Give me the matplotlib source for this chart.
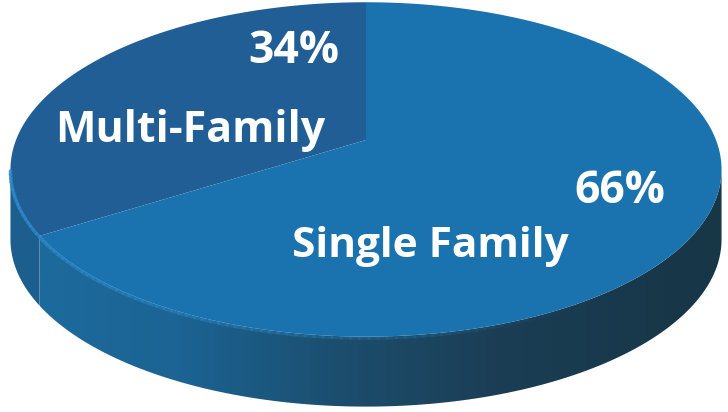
import numpy as np
import matplotlib
matplotlib.use("Agg")
import matplotlib.pyplot as plt
from matplotlib.transforms import Transform
from matplotlib.path import Path
from matplotlib.patches import Polygon
from matplotlib.collections import LineCollection
from matplotlib.colors import LinearSegmentedColormap

# data
labels = ["Multi-Family", "Single Family"]
shares = [34, 66]
pct_labels = ["34%", "66%"]

# colours
top_colors = ["#205e95", "#1a73ae"]
multi_side = "#1c5e8e"
single_side = [(0.0, "#1d6a9c"), (0.2, "#1b6494"), (0.45, "#1c4d6c"),
               (0.67, "#1b3e55"), (1.0, "#173646")]
rim_light = "#2c88c8"

# how the disk sits on the page (pixels, y down)
CX, CY = 366, 140
RX, RY = 350, 162
K = 0.176        # perspective: far half looks smaller than near half
DEPTH = 70


class Tilt(Transform):
    """Unit pie disk -> tilted, perspective ellipse in pixel coords."""
    input_dims = output_dims = 2

    def __init__(self, dy=0):
        super().__init__()
        self.dy = dy

    def transform_non_affine(self, values):
        values = np.asarray(values, dtype=float)
        u, v = values[:, 0], values[:, 1]
        w = 1 + K * v
        return np.column_stack([CX + RX * u / w, CY - RY * v / w + self.dy])

    def transform_path_non_affine(self, path):
        # sample the curves so the projection bends them properly
        pts = [seg(np.linspace(0, 1, 24)) for seg, _ in path.iter_bezier()]
        return Path(self.transform_non_affine(np.vstack(pts)))


def ring(a, b, n=120):
    phi = np.radians(np.linspace(a, b, n))
    return np.column_stack([np.cos(phi), np.sin(phi)])


fig = plt.figure(figsize=(7.28, 4.12), dpi=100)
ax = fig.add_axes([0, 0, 1, 1])

# top face
wedges, _ = ax.pie(shares, colors=top_colors, startangle=90, counterclock=True,
                   wedgeprops=dict(linewidth=0))
for w in wedges:
    w.set_transform(Tilt() + ax.transData)
    w.set_zorder(3)

# side walls, only the part facing the viewer
edges = 90 + 360 * np.cumsum([0] + shares) / sum(shares)
rim = np.degrees(np.arcsin(K))
lo, hi = 180 + rim, 360 - rim
sides = []
for a, b in zip(edges[:-1], edges[1:]):
    a2, b2 = max(a, lo), min(b, hi)
    if a2 >= b2:
        sides.append(None)
        continue
    r = ring(a2, b2)
    sides.append(np.vstack([Tilt(0).transform(r), Tilt(DEPTH).transform(r[::-1])]))

ax.add_patch(Polygon(sides[0], closed=True, fc=multi_side, lw=0, zorder=1))

clip = Polygon(sides[1], closed=True, fc="none", lw=0, zorder=1)
ax.add_patch(clip)
cmap = LinearSegmentedColormap.from_list("side", single_side)
grad = np.linspace(0, 1, 256)[None, :]
im = ax.imshow(grad, cmap=cmap, aspect="auto", zorder=1,
               extent=(sides[1][:, 0].min(), sides[1][:, 0].max(), 412, 100))
im.set_clip_path(clip)

# soft light along the front rim, fading to the right
pts = Tilt(1.5).transform(ring(lo, 300, 90))
segs = np.stack([pts[:-1], pts[1:]], axis=1)
fade = np.linspace(0.8, 0.0, len(segs))
lc = LineCollection(segs, colors=[(*matplotlib.colors.to_rgb(rim_light), f) for f in fade],
                    linewidths=2.5, zorder=4, capstyle="round")
ax.add_collection(lc)

# labels
font = dict(color="white", fontweight="bold", family="Open Sans")
ax.text(294, 63, pct_labels[0], fontsize=32, ha="center", va="baseline", zorder=5, **font)
ax.text(190, 142, labels[0], fontsize=31, ha="center", va="baseline", zorder=5, **font)
ax.text(620, 203, pct_labels[1], fontsize=32, ha="center", va="baseline", zorder=5, **font)
ax.text(430, 257, labels[1], fontsize=30.5, ha="center", va="baseline", zorder=5, **font)

ax.set_aspect("auto")
ax.set_xlim(0, 728)
ax.set_ylim(412, 0)
ax.axis("off")

fig.savefig("out.png", dpi=100)
